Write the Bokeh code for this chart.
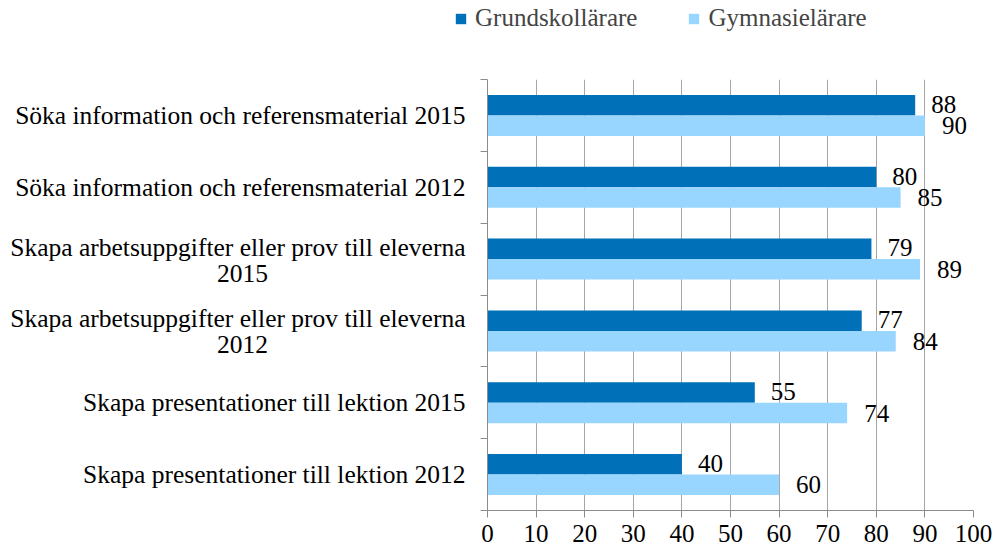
from bokeh.plotting import figure
from bokeh.layouts import column, row
from bokeh.models import (Range1d, FixedTicker, ColumnDataSource, Legend, LegendItem)
from bokeh.transform import dodge
from bokeh.core.properties import value
from bokeh.embed import file_html
from bokeh.resources import INLINE

categories = [
    "Söka information och referensmaterial 2015",
    "Söka information och referensmaterial 2012",
    "Skapa arbetsuppgifter eller prov till eleverna\n2015",
    "Skapa arbetsuppgifter eller prov till eleverna\n2012",
    "Skapa presentationer till lektion 2015",
    "Skapa presentationer till lektion 2012",
]
grundskollarare = [88, 80, 79, 77, 55, 40]
gymnasielarare = [90, 85, 89, 84, 74, 60]
series_names = ["Grundskollärare", "Gymnasielärare"]
x_ticks = [0, 10, 20, 30, 40, 50, 60, 70, 80, 90, 100]

FONT = "Liberation Serif"
FS = "25px"
CAT_FS = "25.5px"
DARK = "#0070B8"
LIGHT = "#99D6FF"
AXIS_C = "#8C8C8C"
GRID_C = "#A6A6A6"

n = len(categories)
pos = [n - i - 0.5 for i in range(n)]  # category centres, first category on top

src = ColumnDataSource(dict(pos=pos, g=grundskollarare, y=gymnasielarare,
                            gl=[str(v) for v in grundskollarare],
                            yl=[str(v) for v in gymnasielarare]))

W, H = 995, 553
LEG_H = 38
LAB_W = 479
TOP_B, BOT_B = 79 - LEG_H, 43

# ---------------- legend strip ----------------
lf = figure(width=W, height=LEG_H, output_backend="svg", toolbar_location=None,
            x_axis_location=None, y_axis_location=None,
            x_range=Range1d(0, 1), y_range=Range1d(0, 1),
            min_border_left=450, min_border_right=0, min_border_top=0,
            min_border_bottom=0, outline_line_color=None)
lf.grid.grid_line_color = None
swatch = ColumnDataSource(dict(y=[0.5], right=[0]))  # zero-width swatch sources
lr1 = lf.hbar(y="y", right="right", left=0, height=0.1, color=DARK, line_color=None, source=swatch)
lr2 = lf.hbar(y="y", right="right", left=0, height=0.1, color=LIGHT, line_color=None, source=swatch)
legend = Legend(items=[LegendItem(label=series_names[0], renderers=[lr1]),
                       LegendItem(label=series_names[1], renderers=[lr2])],
                orientation="horizontal", location="top_left",
                border_line_color=None, background_fill_alpha=0,
                label_text_font=FONT, label_text_font_size=FS,
                glyph_width=13, glyph_height=13, label_standoff=8, spacing=50,
                padding=0, margin=4)
lf.add_layout(legend, "center")

# ---------------- main chart ----------------
p = figure(width=W - LAB_W, height=H - LEG_H, output_backend="svg", toolbar_location=None,
           x_range=Range1d(0, 100), y_range=Range1d(0, n),
           min_border_left=487 - LAB_W, min_border_right=22, min_border_top=TOP_B,
           min_border_bottom=BOT_B, outline_line_color=None)

# bars
r1 = p.hbar(y=dodge("pos", 0.1425), right="g", left=0,
            height=0.285, color=DARK, line_color=None, source=src)
r2 = p.hbar(y=dodge("pos", -0.1425), right="y", left=0,
            height=0.285, color=LIGHT, line_color=None, source=src)

# value labels
p.text(x="g", y=dodge("pos", 0.155), text="gl", source=src,
       x_offset=16, text_baseline="middle", text_align="left",
       text_font=value(FONT), text_font_size=FS, text_color="#000000")
p.text(x="y", y=dodge("pos", -0.145), text="yl", source=src,
       x_offset=17, text_baseline="middle", text_align="left",
       text_font=value(FONT), text_font_size=FS, text_color="#000000")

# x axis
xa = p.xaxis[0]
xa.ticker = FixedTicker(ticks=x_ticks)
xa.axis_line_color = AXIS_C
xa.major_tick_line_color = AXIS_C
xa.major_tick_out = 7
xa.major_tick_in = 0
xa.minor_tick_line_color = None
xa.major_label_text_font = FONT
xa.major_label_text_font_size = FS
xa.major_label_text_color = "#000000"
xa.major_label_standoff = 7

# y axis: ticks at category boundaries, no labels
bounds = list(range(n + 1))
ya = p.yaxis[0]
ya.ticker = FixedTicker(ticks=bounds)
ya.major_label_overrides = {b: "" for b in bounds}
ya.axis_line_color = AXIS_C
ya.major_tick_line_color = AXIS_C
ya.major_tick_out = 7
ya.major_tick_in = 0
ya.minor_tick_line_color = None
ya.major_label_standoff = 0

p.xgrid.grid_line_color = GRID_C
p.xgrid.ticker = FixedTicker(ticks=x_ticks)
p.ygrid.grid_line_color = None

# ---------------- category labels panel (shares the y range) ----------------
lab = figure(width=LAB_W, height=H - LEG_H, output_backend="svg", toolbar_location=None,
             x_axis_location=None, y_axis_location=None,
             x_range=Range1d(0, 1), y_range=p.y_range,
             min_border_left=0, min_border_right=0, min_border_top=TOP_B,
             min_border_bottom=BOT_B, outline_line_color=None)
lab.grid.grid_line_color = None

first_lines = [c.split("\n")[0] for c in categories]
second_lines = [c.split("\n")[1] if "\n" in c else "" for c in categories]
lift = [12.0 / 72.0 if s else 0.0 for s in second_lines]
lsrc = ColumnDataSource(dict(pos=[pv + l for pv, l in zip(pos, lift)],
                             txt=first_lines, x1=[1] * n))
lab.text(x="x1", y="pos", text="txt", source=lsrc,
         x_offset=-14, text_align="right", text_baseline="middle",
         text_font=value(FONT), text_font_size=CAT_FS, text_color="#000000")

wrap_idx = [i for i, s in enumerate(second_lines) if s]
wsrc = ColumnDataSource(dict(pos=[pos[i] for i in wrap_idx],
                             txt=[second_lines[i] for i in wrap_idx],
                             x1=[1] * len(wrap_idx)))
lab.text(x="x1", y=dodge("pos", -14.0 / 72.0), text="txt", source=wsrc,
         x_offset=-237, text_align="center", text_baseline="middle",
         text_font=value(FONT), text_font_size=CAT_FS, text_color="#000000")

layout = column(lf, row(lab, p, spacing=0), spacing=0)
open("out.html", "w").write(file_html(layout, INLINE))
